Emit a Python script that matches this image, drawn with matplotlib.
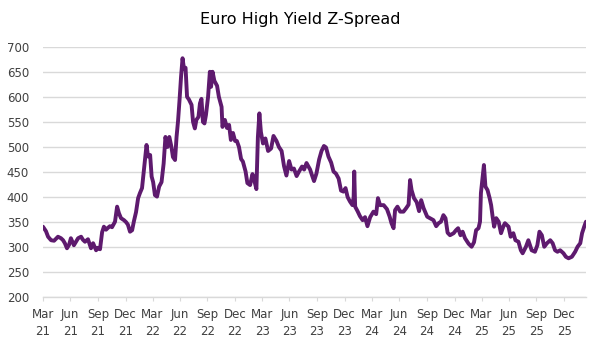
import matplotlib
matplotlib.use("Agg")
import matplotlib.pyplot as plt
import pandas as pd

start_date = "2021-03-31"
# days after start_date
day_offset = [0, 10, 17, 27, 37, 50, 60, 67, 73, 80, 87, 93, 103, 110, 117, 127, 133, 140, 150, 160,
              167, 177, 183, 190, 197, 203, 210, 217, 223, 230, 240, 247, 253, 260, 270, 277, 283, 290, 297, 303,
              310, 317, 323, 330, 335, 345, 350, 357, 362, 367, 373, 380, 387, 395, 402, 408, 415, 421, 428, 433,
              440, 445, 450, 455, 460, 465, 470, 475, 480, 486, 495, 500, 506, 511, 518, 523, 528, 533, 538, 543,
              550, 556, 560, 565, 571, 580, 586, 595, 598, 606, 613, 620, 626, 633, 640, 646, 653, 660, 666, 675,
              681, 690, 698, 705, 711, 716, 721, 726, 733, 741, 750, 760, 768, 778, 786, 795, 803, 811, 820, 828,
              836, 845, 853, 863, 870, 878, 890, 896, 903, 911, 920, 928, 936, 943, 951, 960, 968, 976, 985, 993,
              1001, 1008, 1015, 1023, 1031, 1035, 1037, 1040, 1048, 1056, 1065, 1073, 1081, 1090, 1101, 1110, 1116, 1123, 1135, 1146,
              1155, 1161, 1168, 1173, 1181, 1190, 1201, 1210, 1218, 1223, 1228, 1236, 1245, 1253, 1260, 1268, 1280, 1289, 1301, 1310,
              1318, 1326, 1334, 1341, 1348, 1356, 1368, 1376, 1383, 1391, 1398, 1406, 1418, 1428, 1436, 1443, 1451, 1456, 1459, 1465,
              1469, 1474, 1481, 1488, 1493, 1498, 1503, 1510, 1518, 1526, 1534, 1539, 1551, 1558, 1567, 1574, 1584, 1592, 1598, 1609,
              1617, 1628, 1639, 1647, 1654, 1662, 1670, 1679, 1690, 1698, 1706, 1714, 1723, 1734, 1742, 1751, 1762, 1773, 1781, 1790,
              1796, 1803, 1809]
z_spread = [341, 332, 321, 314, 313, 321, 318, 314, 308, 298, 305, 318, 304, 311, 318, 321, 315, 311, 316, 298,
            308, 294, 299, 296, 330, 341, 335, 339, 342, 340, 351, 381, 368, 358, 354, 350, 345, 331, 334, 352,
            370, 398, 408, 418, 447, 504, 481, 484, 441, 430, 404, 401, 421, 430, 467, 520, 500, 520, 500, 480,
            474, 520, 552, 594, 640, 677, 655, 658, 600, 595, 584, 550, 537, 554, 560, 587, 596, 550, 547, 564,
            600, 650, 620, 650, 632, 622, 600, 580, 540, 554, 538, 544, 514, 528, 512, 512, 500, 476, 471, 451,
            428, 424, 446, 431, 416, 520, 567, 530, 507, 517, 492, 497, 522, 512, 500, 492, 462, 443, 472, 455,
            457, 442, 451, 461, 455, 468, 455, 444, 432, 447, 475, 492, 502, 499, 481, 469, 451, 447, 437, 413,
            411, 418, 400, 391, 384, 400, 451, 381, 372, 362, 354, 360, 342, 360, 371, 366, 398, 384, 384, 376,
            361, 348, 338, 374, 381, 371, 371, 378, 385, 434, 414, 398, 390, 372, 394, 378, 361, 358, 354, 342,
            348, 351, 364, 358, 329, 324, 328, 334, 338, 324, 331, 318, 307, 301, 310, 334, 338, 351, 408, 441,
            464, 421, 414, 398, 384, 361, 341, 358, 351, 328, 342, 348, 341, 321, 328, 314, 311, 294, 288, 301,
            314, 294, 291, 304, 331, 324, 301, 308, 314, 308, 294, 291, 294, 288, 281, 278, 281, 291, 301, 308,
            328, 341, 351]
y_ticks = [200, 250, 300, 350, 400, 450, 500, 550, 600, 650, 700]
title = "Euro High Yield Z-Spread"

dates = pd.Timestamp(start_date) + pd.to_timedelta(day_offset, unit="D")
qticks = pd.date_range(start=start_date, periods=20, freq="QE")
qlabels = [d.strftime("%b") + "\n" + d.strftime("%y") for d in qticks]

fig = plt.figure(figsize=(6.01, 3.46), dpi=100)
ax = fig.add_axes([0.0715, 0.1405, 0.9035, 0.7245])

ax.plot(dates, z_spread, color="#5E1A6E", lw=2.8, solid_joinstyle="round",
        solid_capstyle="round")

ax.set_ylim(200, 700)
ax.set_yticks(y_ticks)
ax.set_xlim(dates[0], dates[-1])
ax.set_xticks(qticks)
ax.set_xticklabels(qlabels)

ax.grid(axis="y", color="#D9D9D9", lw=1)
ax.set_axisbelow(True)
for s in ["top", "right", "left"]:
    ax.spines[s].set_visible(False)
ax.spines["bottom"].set_color("#D9D9D9")
ax.spines["bottom"].set_linewidth(1)
ax.tick_params(axis="y", length=0, pad=10, labelsize=8.5, labelcolor="#404040")
ax.tick_params(axis="x", length=3, color="#D9D9D9", pad=5, labelsize=8.5, labelcolor="#404040")
for lbl in ax.get_xticklabels():
    lbl.set_linespacing(1.35)

fig.suptitle(title, x=0.5, y=0.965, fontsize=11.5, color="#000000")

fig.savefig("out.png", dpi=100)
